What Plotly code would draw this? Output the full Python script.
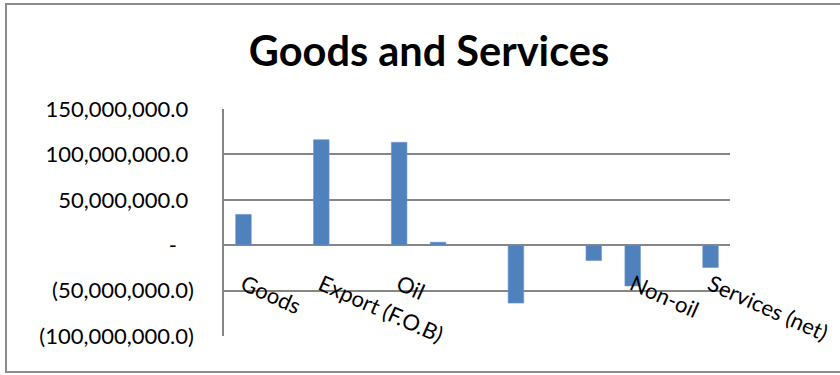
import plotly.graph_objects as go

# Data
categories = ["Goods", "", "Export (F.O.B)", "", "Oil", "", "", "", "", "", "Non-oil", "", "Services (net)"]
values = [33.9e6, None, 116.2e6, None, 113.3e6, 3.3e6, None, -63.7e6, None, -16.9e6, -44.9e6, None, -24.6e6]
y_tickvals = [-100e6, -50e6, 0, 50e6, 100e6, 150e6]
y_ticktext = ["(100,000,000.0)", "(50,000,000.0)", "-\u00a0\u00a0\u00a0", "50,000,000.0\u00a0", "100,000,000.0\u00a0", "150,000,000.0\u00a0"]

x_idx = list(range(len(categories)))

W, H = 840, 375
L, R, T, B = 224, 110, 109, 39
pw, ph = W - L - R, H - T - B

def px_to_paper_x(px):
    return (px - L) / pw

def px_to_paper_y(py):
    return (H - B - py) / ph

FONT = "Lato"
GRID = "#868686"

fig = go.Figure()
fig.add_trace(go.Bar(
    x=x_idx, y=values, width=0.4,
    marker=dict(color="#4F81BD", line=dict(color="#6E97CC", width=0.6)),
    showlegend=False, hoverinfo="skip",
))

fig.update_layout(
    width=W, height=H,
    margin=dict(l=L, r=R, t=T, b=B, pad=0, autoexpand=False),
    paper_bgcolor="white", plot_bgcolor="white",
    font=dict(family=FONT, color="#000000", size=22),
    title=dict(text="<b>Goods and Services</b>", x=429 / W, xanchor="center",
               y=1 - 51 / H, yanchor="middle",
               font=dict(family=FONT, size=41.5, color="#000000")),
    bargap=0.6,
    xaxis=dict(
        range=[-0.5, len(categories) - 0.5],
        tickmode="array", tickvals=x_idx, ticktext=categories,
        tickangle=24, showgrid=False, showline=False, zeroline=False,
        ticks="", anchor="free", position=px_to_paper_y(267), automargin=False,
        tickfont=dict(family=FONT, size=22, color="#000000"),
    ),
    yaxis=dict(
        range=[-100e6, 150e6], automargin=False,
        tickmode="array", tickvals=y_tickvals, ticktext=y_ticktext,
        showgrid=True, gridcolor=GRID, gridwidth=1.6,
        zeroline=True, zerolinecolor=GRID, zerolinewidth=1.8,
        showline=True, linecolor=GRID, linewidth=1.6,
        ticks="", ticklabelstandoff=24,
        tickfont=dict(family=FONT, size=22, color="#000000"),
    ),
    shapes=[dict(
        type="rect", xref="paper", yref="paper",
        x0=px_to_paper_x(6), x1=px_to_paper_x(860),
        y0=px_to_paper_y(372), y1=px_to_paper_y(4),
        line=dict(color="#8C8C8C", width=2), fillcolor="rgba(0,0,0,0)", layer="below",
    )],
)

fig.write_html("out.html")
